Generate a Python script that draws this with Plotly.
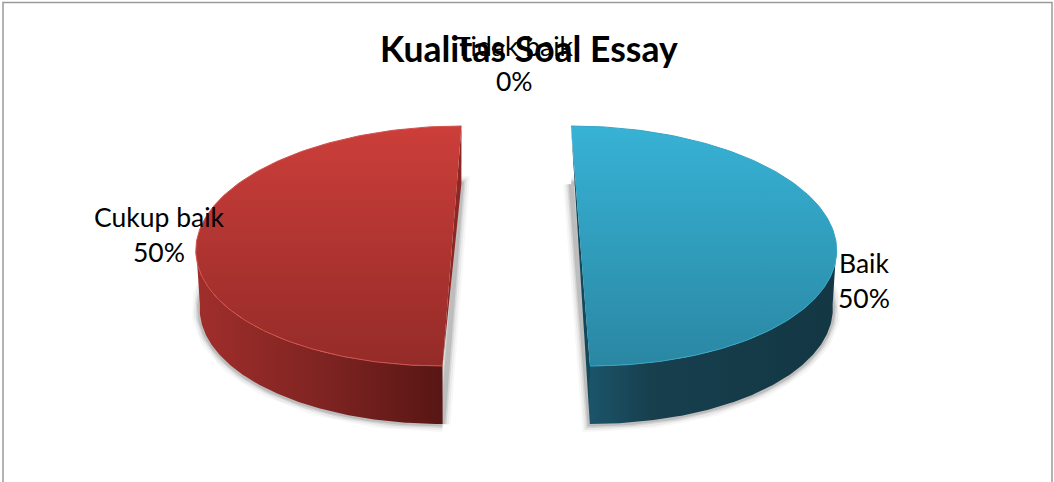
import numpy as np
import plotly.graph_objects as go

# Data
categories = ["Baik", "Tidak baik", "Cukup baik"]
values = [50, 0, 50]
title_text = "Kualitas Soal Essay"

FONT = "Lato, Carlito, Calibri, sans-serif"
W, H = 1054, 482
RX, RY, SHEAR, DEPTH = 256, 120, 9.5, 58
BOTTOM_SCALE = 0.985


def arc(cx, cy, a0, a1, side, n=160, scale=1.0, dy=0.0):
    """Sheared ellipse arc; angle runs clockwise from 12 o'clock."""
    t = np.linspace(a0, a1, n)
    x = cx + scale * (RX * np.sin(t) - side * SHEAR * np.cos(t))
    y = cy + dy - RY * np.cos(t)
    return x, y


style = {
    "Baik": dict(center=(580.5, 246), side=1,
                 top=[[0, "#2A87A3"], [1, "#37B2D5"]],
                 wall=[[0, "#1B5469"], [0.25, "#173F4E"], [1, "#133743"]],
                 cut="#11485A", rim="#35A5C6"),
    "Cukup baik": dict(center=(452, 246), side=-1,
                       top=[[0, "#942B28"], [1, "#CC3E3A"]],
                       wall=[[0, "#A02E2B"], [0.55, "#7C2321"], [1, "#581614"]],
                       cut="#8D2724", rim="#D2504B"),
}

fig = go.Figure()
total = sum(values)
angle = 0.0
layers = []
for name, v in zip(categories, values):
    sweep = 2 * np.pi * v / total
    a0, a1 = angle, angle + sweep
    angle = a1
    if v > 0:
        layers.append((name, a0, a1))


def add_poly(x, y, fill=None, grad=None, line=None, lw=0):
    fig.add_trace(go.Scatter(
        x=x, y=y, mode="lines", fill="toself" if (fill or grad) else "none",
        fillcolor=fill, fillgradient=grad,
        line=dict(color=line or "rgba(0,0,0,0)", width=lw),
        hoverinfo="skip", showlegend=False))


for name, a0, a1 in layers:
    s = style[name]
    cx, cy = s["center"]
    side = s["side"]
    # soft shadow: outline of the base under the slice
    bx, by = arc(cx, cy, a0, a1, side, scale=BOTTOM_SCALE, dy=DEPTH)
    sx = np.r_[bx, bx[0]]
    sy = np.r_[by, by[0]]
    for lw, alpha in [(16, 0.04), (12, 0.06), (8, 0.10), (5, 0.14)]:
        add_poly(sx, sy, line=f"rgba(40,40,40,{alpha})", lw=lw)

for name, a0, a1 in layers:
    s = style[name]
    cx, cy = s["center"]
    side = s["side"]
    tx, ty = arc(cx, cy, a0, a1, side)
    bx, by = arc(cx, cy, a0, a1, side, scale=BOTTOM_SCALE, dy=DEPTH)
    # outer wall: front half of rim, rim of base
    fa0 = np.pi / 2 if side == 1 else np.pi
    fa1 = np.pi if side == 1 else 3 * np.pi / 2
    fx, fy = arc(cx, cy, fa0, fa1, side)
    gx, gy = arc(cx, cy, fa0, fa1, side, scale=BOTTOM_SCALE, dy=DEPTH)
    add_poly(np.r_[fx, gx[::-1]], np.r_[fy, gy[::-1]],
             grad=dict(type="horizontal", colorscale=s["wall"]))
    # cut face
    add_poly([tx[0], tx[-1], bx[-1], tx[0]], [ty[0], ty[-1], by[-1], ty[0]], fill=s["cut"])
    # top surface
    add_poly(np.r_[tx, tx[0]], np.r_[ty, ty[0]],
             grad=dict(type="vertical", colorscale=s["top"]))
    add_poly(tx, ty, line=s["rim"], lw=1)

annotations = [dict(x=528.5, y=48, text=f"<b>{title_text}</b>", showarrow=False,
                    font=dict(family=FONT, size=35.5, color="#000000"))]
label_pos = {"Baik": (864, 263), "Tidak baik": (514, 46), "Cukup baik": (159, 217)}
for name, v in zip(categories, values):
    x, y = label_pos[name]
    annotations.append(dict(x=x, y=y, text=name, showarrow=False,
                            font=dict(family=FONT, size=26.5, color="#000000")))
    annotations.append(dict(x=x, y=y + 35, text=f"{round(100 * v / total)}%", showarrow=False,
                            font=dict(family=FONT, size=26.5, color="#000000")))

fig.update_layout(
    width=W, height=H, margin=dict(l=0, r=0, t=0, b=0),
    paper_bgcolor="white", plot_bgcolor="white", showlegend=False,
    xaxis=dict(range=[0, W], visible=False, fixedrange=True),
    yaxis=dict(range=[H, 0], visible=False, fixedrange=True),
    annotations=annotations,
    shapes=[dict(type="rect", x0=3, x1=1052, y0=2.5, y1=H + 10,
                 line=dict(color="#9A9A9A", width=1.5), layer="below")],
)
fig.write_html("out.html", config={"displayModeBar": False},
               post_script="document.body.style.margin='0';")
